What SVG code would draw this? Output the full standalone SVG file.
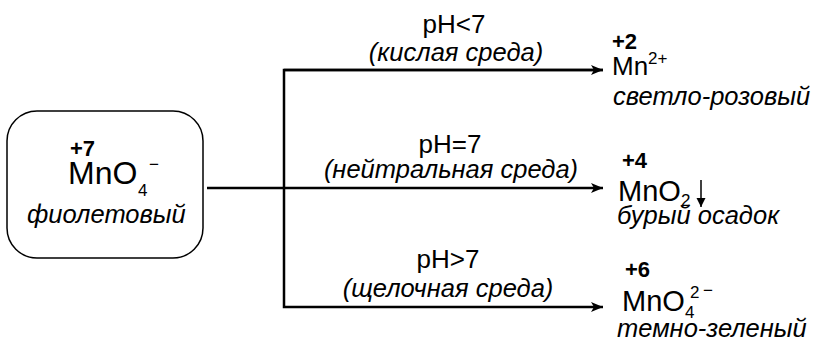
<svg xmlns="http://www.w3.org/2000/svg" width="813" height="347" viewBox="0 0 813 347">
<defs>
<style>
text{font-family:"Liberation Sans",Arial,sans-serif;fill:#000}
.n{font-size:26px}
.f{font-size:29px}
.b{font-size:22px;font-weight:bold}
.i{font-size:25.5px;font-style:italic}
.s{font-size:17px}
.c{text-anchor:middle}
.ln{fill:none;stroke:#000;stroke-width:2.5}
</style>
<marker id="ah" markerUnits="userSpaceOnUse" markerWidth="14" markerHeight="12" refX="12" refY="5" orient="auto">
<path d="M0,0 L12,5 L0,10 L3,5 z" fill="#000"/>
</marker>
<marker id="ahs" markerUnits="userSpaceOnUse" markerWidth="10" markerHeight="12" refX="9" refY="4.5" orient="auto">
<path d="M0,0 L9,4.5 L0,9 z" fill="#000"/>
</marker>
</defs>
<g id="connectors">
<path class="ln" d="M207,188 H603" marker-end="url(#ah)"/>
<path class="ln" d="M603,70 H284 V307 H603" marker-end="url(#ah)"/>
<path class="ln" d="M284,70 H603" marker-end="url(#ah)"/>
<text class="n c" x="454" y="33">pH&lt;7</text>
<text class="i c" x="456" y="61">(кислая среда)</text>
<text class="n c" x="450" y="153">pH=7</text>
<text class="i c" x="451" y="178">(нейтральная среда)</text>
<text class="n c" x="448" y="268">pH&gt;7</text>
<text class="i c" x="448" y="297">(щелочная среда)</text>
</g>
<g id="permanganate">
<rect x="7" y="111" width="196" height="147" rx="30" ry="30" fill="#fff" stroke="#000" stroke-width="1.5"/>
<text class="b" x="70" y="156">+7</text>
<text x="68" y="184" style="font-size:32px">MnO</text>
<text class="s" x="138" y="196">4</text>
<text class="s" x="149" y="170">−</text>
<text class="i" x="27" y="223">фиолетовый</text>
</g>
<g id="mn2">
<text class="b" x="612" y="49">+2</text>
<text class="n" x="612" y="75">Mn</text>
<text class="s" x="648" y="64">2+</text>
<text class="i" x="613" y="105">светло-розовый</text>
</g>
<g id="mno2">
<text class="b" x="622" y="168">+4</text>
<text class="f" x="618" y="201">MnO</text>
<text class="s" x="681" y="206">2</text>
<path d="M701,180 V207" stroke="#000" stroke-width="1.5" marker-end="url(#ahs)"/>
<text class="i" x="617" y="224">бурый осадок</text>
</g>
<g id="mno4_2">
<text class="b" x="625" y="277">+6</text>
<text class="f" x="622" y="311">MnO</text>
<text class="s" x="685" y="318">4</text>
<text class="s" x="690" y="298">2</text>
<text class="s" x="703" y="296">−</text>
<text class="i" x="617" y="337">темно-зеленый</text>
</g>
</svg>
